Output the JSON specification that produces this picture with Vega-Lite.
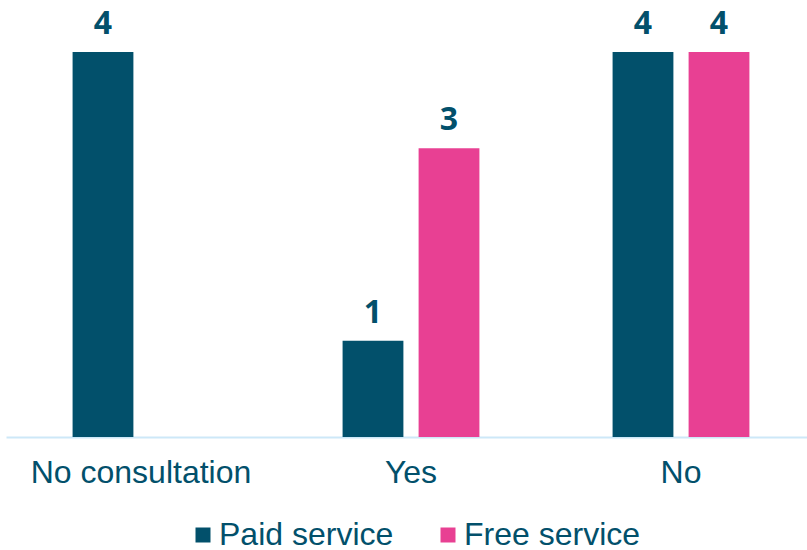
{
  "$schema": "https://vega.github.io/schema/vega-lite/v6.json",
  "width": 801,
  "height": 437,
  "autosize": {"type": "none"},
  "padding": {"left": 6, "top": 0, "right": 0, "bottom": 113},
  "config": {"view": {"stroke": null}},
  "data": {
    "values": [
      {"category": "No consultation", "service": "Paid service", "value": 4},
      {"category": "Yes", "service": "Paid service", "value": 1},
      {"category": "Yes", "service": "Free service", "value": 3},
      {"category": "No", "service": "Paid service", "value": 4},
      {"category": "No", "service": "Free service", "value": 4}
    ]
  },
  "encoding": {
    "x": {
      "field": "category",
      "type": "nominal",
      "sort": ["No consultation", "Yes", "No"],
      "scale": {"range": [0, 810], "paddingInner": 0, "paddingOuter": 0},
      "axis": {
        "title": null,
        "labelAngle": 0,
        "ticks": false,
        "domainColor": "#CDE8F8",
        "domainWidth": 2,
        "labelFont": "Liberation Sans",
        "labelFontSize": 32,
        "labelColor": "#02506B",
        "labelPadding": 20,
        "labelLimit": 0
      }
    },
    "xOffset": {
      "field": "service",
      "type": "nominal",
      "sort": ["Paid service", "Free service"],
      "scale": {"paddingInner": 0.2, "paddingOuter": 0.876}
    },
    "y": {
      "field": "value",
      "type": "quantitative",
      "scale": {"domain": [0, 4.54]},
      "axis": null
    }
  },
  "layer": [
    {
      "mark": {"type": "bar"},
      "encoding": {
        "color": {
          "field": "service",
          "type": "nominal",
          "sort": ["Paid service", "Free service"],
          "scale": {"domain": ["Paid service", "Free service"], "range": ["#02506B", "#E84093"]},
          "legend": {
            "title": null,
            "orient": "none",
            "direction": "horizontal",
            "legendX": 181,
            "legendY": 519,
            "symbolType": "square",
            "symbolSize": 225,
            "symbolStrokeWidth": 0,
            "labelFont": "Liberation Sans",
            "labelFontSize": 32,
            "labelColor": "#02506B",
            "labelOffset": 0,
            "labelLimit": 0,
            "columnPadding": 38,
            "padding": 0
          }
        }
      }
    },
    {
      "mark": {
        "type": "text",
        "dy": -18,
        "baseline": "alphabetic",
        "font": "Open Sans",
        "fontWeight": "bold",
        "fontSize": 32,
        "color": "#02506B"
      },
      "encoding": {"text": {"field": "value", "type": "quantitative"}}
    }
  ]
}
